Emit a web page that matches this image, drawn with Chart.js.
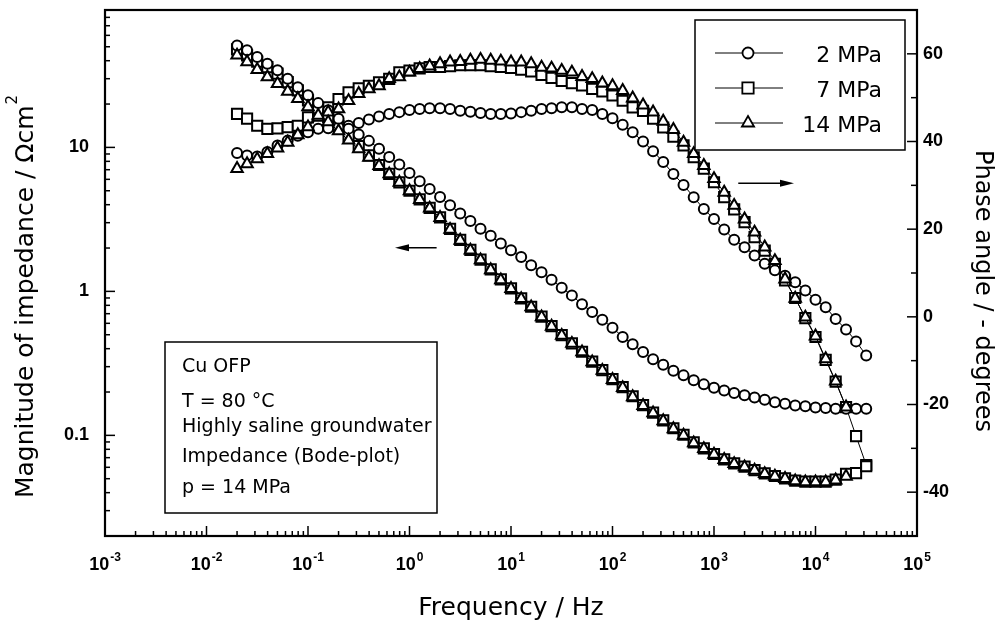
<!DOCTYPE html>
<html>
<head>
<meta charset="utf-8">
<script src="https://cdn.jsdelivr.net/npm/chart.js@4.4.1/dist/chart.umd.min.js"></script>
<style>
  html, body { margin: 0; padding: 0; background: #fff; }
  canvas { display: block; }
</style>
</head>
<body>
<canvas id="bode" width="999" height="625"></canvas>
<script>
// measuring frequencies, 10 per decade (Hz)
const freqHz = [
  0.02, 0.0251, 0.0316, 0.0398, 0.0501, 0.0631, 0.0794,
  0.1, 0.126, 0.158, 0.2, 0.251, 0.316, 0.398, 0.501, 0.631, 0.794,
  1, 1.26, 1.58, 2, 2.51, 3.16, 3.98, 5.01, 6.31, 7.94,
  10, 12.6, 15.8, 20, 25.1, 31.6, 39.8, 50.1, 63.1, 79.4,
  100, 126, 158, 200, 251, 316, 398, 501, 631, 794,
  1000, 1260, 1580, 2000, 2510, 3160, 3980, 5010, 6310, 7940,
  10000, 12600, 15800, 20000, 25100, 31600
];

const seriesLabels = ['2 MPa', '7 MPa', '14 MPa'];

// |Z| in Ohm cm2 (left axis)
const impedance2MPa = [
  51.1, 47.2, 42.4, 38.1, 34.3, 30.0, 26.2, 23.0, 20.3, 18.1,
  15.8, 13.5, 12.3, 11.1, 9.8, 8.57, 7.62, 6.64, 5.83, 5.14,
  4.52, 3.96, 3.48, 3.08, 2.72, 2.43, 2.15, 1.93, 1.73, 1.52,
  1.36, 1.205, 1.06, 0.938, 0.813, 0.718, 0.635, 0.560, 0.482, 0.429,
  0.379, 0.338, 0.309, 0.281, 0.261, 0.241, 0.226, 0.214, 0.205, 0.197,
  0.190, 0.183, 0.177, 0.170, 0.166, 0.161, 0.159, 0.156, 0.155, 0.153,
  0.153, 0.153, 0.153
];
const impedance7MPa = [
  47.9, 43.6, 39.4, 36.1, 32.5, 28.4, 24.9, 21.2, 18.6, 16.3,
  14.1, 12.0, 10.2, 8.81, 7.55, 6.55, 5.72, 5.0, 4.36, 3.80,
  3.27, 2.72, 2.28, 1.94, 1.66, 1.42, 1.21, 1.05, 0.893, 0.782,
  0.668, 0.574, 0.497, 0.436, 0.381, 0.325, 0.284, 0.246, 0.216, 0.187,
  0.162, 0.144, 0.127, 0.112, 0.101, 0.0893, 0.0812, 0.0742, 0.0682, 0.0638,
  0.0606, 0.0574, 0.0544, 0.0522, 0.0503, 0.0485, 0.0477, 0.0477, 0.0477, 0.0492,
  0.0541, 0.0547, 0.0610
];
const impedance14MPa = [
  43.6, 39.2, 34.7, 30.8, 27.7, 24.5, 21.8, 19.1, 16.7, 15.0,
  13.0, 11.2, 9.77, 8.51, 7.45, 6.53, 5.71, 4.99, 4.34, 3.78,
  3.25, 2.69, 2.26, 1.93, 1.65, 1.41, 1.20, 1.045, 0.889, 0.778,
  0.664, 0.571, 0.494, 0.434, 0.379, 0.323, 0.282, 0.244, 0.214, 0.185,
  0.161, 0.143, 0.126, 0.111, 0.100, 0.0885, 0.0807, 0.0738, 0.0678, 0.0635,
  0.0603, 0.0571, 0.0541, 0.0519, 0.0500, 0.0482, 0.0474, 0.0474, 0.0474, 0.0488,
  0.0519
];

// -phase in degrees (right axis)
const phase2MPa = [
  37.4, 36.8, 36.6, 37.6, 39.1, 40.2, 41.3, 42.1, 42.9, 43.0,
  43.2, 43.6, 44.2, 45.0, 45.7, 46.3, 46.7, 47.2, 47.4, 47.6,
  47.6, 47.4, 47.0, 46.8, 46.5, 46.3, 46.3, 46.4, 46.7, 47.0,
  47.4, 47.6, 47.8, 47.8, 47.4, 47.2, 46.3, 45.3, 43.8, 42.1,
  40.0, 37.8, 35.3, 32.6, 30.1, 27.3, 24.6, 22.3, 19.9, 17.6,
  15.9, 14.0, 12.1, 10.6, 9.4, 7.9, 6.0, 3.9, 2.2, -0.5,
  -2.9, -5.6, -8.8
];
const phase7MPa = [
  46.3, 45.2, 43.6, 42.9, 43.0, 43.3, 43.6, 45.5, 46.7, 47.8,
  49.7, 51.2, 52.1, 52.7, 53.5, 54.3, 55.8, 56.2, 56.7, 57.0,
  57.0, 57.2, 57.4, 57.4, 57.4, 57.2, 57.0, 56.8, 56.4, 56.0,
  55.2, 54.5, 53.8, 53.3, 52.8, 52.0, 51.4, 50.5, 49.3, 47.8,
  47.0, 45.2, 43.2, 41.1, 39.1, 36.4, 33.8, 30.7, 27.3, 24.5,
  21.6, 18.2, 15.1, 12.1, 8.3, 4.3, -0.3, -4.6, -9.8, -14.8,
  -20.6, -27.2, -33.8
];
const phase14MPa = [
  33.8, 34.9, 36.0, 37.2, 38.5, 39.8, 41.5, 43.3, 45.5, 46.7,
  47.4, 49.3, 50.9, 52.0, 52.7, 54.3, 54.7, 55.8, 56.6, 57.2,
  57.7, 58.1, 58.2, 58.5, 58.7, 58.5, 58.3, 58.1, 58.1, 57.7,
  56.9, 56.7, 56.2, 55.8, 54.8, 54.3, 53.3, 52.7, 51.6, 49.9,
  48.3, 46.7, 44.6, 42.7, 39.8, 37.2, 34.5, 31.5, 28.4, 25.4,
  22.3, 19.3, 15.9, 12.8, 8.6, 4.2, -0.1, -4.4, -9.6, -14.7,
  -20.6
];

const xTickExponents = [-3, -2, -1, 0, 1, 2, 3, 4, 5];
const leftTicks = [0.1, 1, 10];
const rightTicks = [-40, -20, 0, 20, 40, 60];

const noteLines = ['Cu OFP', 'T = 80 \u00B0C', 'Highly saline groundwater', 'Impedance (Bode-plot)', 'p = 14 MPa'];

// arrows pointing to the axis each curve family belongs to, in data units
const arrowMagnitude = { from: [1.85, 2.01], to: [0.72, 2.01] };
const arrowPhase = { from: [1734, 30.5], to: [6140, 30.5] };

const markerStyles = ['circle', 'rect', 'triangle'];
const markerRadius = [5, 7.2, 6.6];
const legendRadius = [5.5, 8, 7];
const drawOrder = [1, 2, 0];

const TICK_FONT = 'bold 18px "Liberation Sans", Arial, sans-serif';
const EXP_FONT = 'bold 12px "Liberation Sans", Arial, sans-serif';
const TITLE_FONT = '"DejaVu Sans", sans-serif';

function makeSeries(k, values, axis) {
    return {
        label: seriesLabels[k],
        yAxisID: axis,
        data: values.map((v, i) => ({ x: freqHz[i], y: v })),
        borderColor: '#000',
        borderWidth: 1,
        pointStyle: markerStyles[k],
        pointRadius: markerRadius[k],
        pointHoverRadius: markerRadius[k],
        pointBorderWidth: 2,
        pointBorderColor: '#000',
        pointBackgroundColor: '#fff',
        fill: false,
        tension: 0,
        order: drawOrder[k]
    };
}

function line(ctx, x1, y1, x2, y2) {
    ctx.beginPath();
    ctx.moveTo(x1, y1);
    ctx.lineTo(x2, y2);
    ctx.stroke();
}

function drawArrow(ctx, x0, y0, x1, y1) {
    const dir = Math.sign(x1 - x0);
    line(ctx, x0, y0, x1 - dir * 8, y1);
    ctx.beginPath();
    ctx.moveTo(x1, y1);
    ctx.lineTo(x1 - dir * 14, y1 - 3.5);
    ctx.lineTo(x1 - dir * 14, y1 + 3.5);
    ctx.closePath();
    ctx.fill();
}

function drawMarker(ctx, style, r, x, y) {
    if (Chart.helpers && Chart.helpers.drawPoint) {
        Chart.helpers.drawPoint(ctx, { pointStyle: style, radius: r, rotation: 0, borderWidth: 1.8 }, x, y);
        return;
    }
    ctx.beginPath();
    ctx.arc(x, y, r, 0, Math.PI * 2);
    ctx.fill();
    ctx.stroke();
}

const bodeDecor = {
    id: 'bodeDecor',
    beforeDatasetsDraw(chart) {
        const { ctx, chartArea: a, scales } = chart;
        const sx = scales.x, sl = scales.y, sr = scales.y2;
        ctx.save();
        ctx.strokeStyle = '#000';
        ctx.lineWidth = 1.5;

        // x ticks, pointing inwards
        xTickExponents.forEach(e => {
            const dec = Math.pow(10, e);
            const p = sx.getPixelForValue(dec);
            line(ctx, p, a.bottom, p, a.bottom - 10);
            if (e < 5) {
                for (let m = 2; m <= 9; m++) {
                    const q = sx.getPixelForValue(m * dec);
                    line(ctx, q, a.bottom, q, a.bottom - 5);
                }
            }
        });

        // left log axis
        for (let e = -2; e <= 1; e++) {
            const dec = Math.pow(10, e);
            if (dec >= sl.min && dec <= sl.max) {
                const p = sl.getPixelForValue(dec);
                line(ctx, a.left, p, a.left + 10, p);
            }
            for (let m = 2; m <= 9; m++) {
                const v = m * dec;
                if (v <= sl.min || v >= sl.max) continue;
                const q = sl.getPixelForValue(v);
                line(ctx, a.left, q, a.left + 5, q);
            }
        }

        // right linear axis
        for (let v = sr.min + 10; v < sr.max; v += 10) {
            const p = sr.getPixelForValue(v);
            const len = rightTicks.includes(v) ? 10 : 6;
            line(ctx, a.right, p, a.right - len, p);
        }

        ctx.lineWidth = 2.2;
        ctx.strokeRect(a.left, a.top, a.right - a.left, a.bottom - a.top);
        ctx.restore();
    },
    afterDatasetsDraw(chart) {
        const { ctx, chartArea: a, scales } = chart;
        const sx = scales.x, sl = scales.y, sr = scales.y2;
        ctx.save();
        ctx.fillStyle = '#000';
        ctx.strokeStyle = '#000';

        // x tick labels 10^n
        xTickExponents.forEach(e => {
            const p = sx.getPixelForValue(Math.pow(10, e));
            ctx.font = TICK_FONT;
            const wBase = ctx.measureText('10').width;
            ctx.font = EXP_FONT;
            const wExp = ctx.measureText(String(e)).width;
            const x0 = p - (wBase + wExp + 1) / 2;
            ctx.textAlign = 'left';
            ctx.textBaseline = 'alphabetic';
            ctx.font = TICK_FONT;
            ctx.fillText('10', x0, a.bottom + 34);
            ctx.font = EXP_FONT;
            ctx.fillText(String(e), x0 + wBase + 1, a.bottom + 25);
        });

        ctx.font = TICK_FONT;
        ctx.textBaseline = 'middle';
        ctx.textAlign = 'right';
        leftTicks.forEach(v => ctx.fillText(String(v), a.left - 16, sl.getPixelForValue(v)));
        ctx.textAlign = 'left';
        rightTicks.forEach(v => ctx.fillText(String(v), a.right + 6, sr.getPixelForValue(v)));

        // axis titles on both sides
        ctx.textBaseline = 'alphabetic';
        ctx.save();
        ctx.translate(33, (a.top + a.bottom) / 2 + 24);
        ctx.rotate(-Math.PI / 2);
        ctx.font = '25px ' + TITLE_FONT;
        const main = 'Magnitude of impedance / \u03A9cm';
        const wMain = ctx.measureText(main).width;
        ctx.font = '15px ' + TITLE_FONT;
        const wSup = ctx.measureText('2').width;
        ctx.textAlign = 'left';
        ctx.font = '25px ' + TITLE_FONT;
        ctx.fillText(main, -(wMain + wSup) / 2, 0);
        ctx.font = '15px ' + TITLE_FONT;
        ctx.fillText('2', -(wMain + wSup) / 2 + wMain + 1, -16);
        ctx.restore();

        ctx.save();
        ctx.translate(976, (a.top + a.bottom) / 2 + 18);
        ctx.rotate(Math.PI / 2);
        ctx.font = '24px ' + TITLE_FONT;
        ctx.textAlign = 'center';
        ctx.fillText('Phase angle / - degrees', 0, 0);
        ctx.restore();

        // arrows
        ctx.lineWidth = 1.5;
        drawArrow(ctx,
            sx.getPixelForValue(arrowMagnitude.from[0]), sl.getPixelForValue(arrowMagnitude.from[1]),
            sx.getPixelForValue(arrowMagnitude.to[0]), sl.getPixelForValue(arrowMagnitude.to[1]));
        drawArrow(ctx,
            sx.getPixelForValue(arrowPhase.from[0]), sr.getPixelForValue(arrowPhase.from[1]),
            sx.getPixelForValue(arrowPhase.to[0]), sr.getPixelForValue(arrowPhase.to[1]));

        // legend box
        const lg = { left: a.right - 222, top: a.top + 10, w: 210, h: 130 };
        ctx.fillStyle = '#fff';
        ctx.fillRect(lg.left, lg.top, lg.w, lg.h);
        ctx.lineWidth = 1.5;
        ctx.strokeRect(lg.left, lg.top, lg.w, lg.h);
        seriesLabels.forEach((label, k) => {
            const cy = lg.top + 33 + k * 35;
            ctx.lineWidth = 1;
            ctx.strokeStyle = '#000';
            line(ctx, lg.left + 20, cy, lg.left + 88, cy);
            ctx.fillStyle = '#fff';
            ctx.lineWidth = 1.8;
            drawMarker(ctx, markerStyles[k], legendRadius[k], lg.left + 53, cy);
            ctx.fillStyle = '#000';
            ctx.font = '22px ' + TITLE_FONT;
            ctx.textAlign = 'right';
            ctx.textBaseline = 'alphabetic';
            ctx.fillText(label, lg.left + 187, cy + 8.5);
        });

        // note box with test conditions
        const nb = { left: a.left + 60, top: a.bottom - 194, w: 272, h: 171 };
        ctx.fillStyle = '#fff';
        ctx.fillRect(nb.left, nb.top, nb.w, nb.h);
        ctx.lineWidth = 1.5;
        ctx.strokeRect(nb.left, nb.top, nb.w, nb.h);
        ctx.fillStyle = '#000';
        ctx.font = '19px ' + TITLE_FONT;
        ctx.textAlign = 'left';
        const baselines = [30, 65, 90, 120, 151];
        noteLines.forEach((t, i) => ctx.fillText(t, nb.left + 17, nb.top + baselines[i]));

        ctx.restore();
    }
};

const ctx = document.getElementById('bode').getContext('2d');
const chart = new Chart(ctx, {
    type: 'line',
    data: {
        datasets: [
            makeSeries(0, impedance2MPa, 'y'),
            makeSeries(1, impedance7MPa, 'y'),
            makeSeries(2, impedance14MPa, 'y'),
            makeSeries(0, phase2MPa, 'y2'),
            makeSeries(1, phase7MPa, 'y2'),
            makeSeries(2, phase14MPa, 'y2')
        ]
    },
    options: {
        responsive: false,
        animation: false,
        events: [],
        devicePixelRatio: 1,
        layout: { padding: { top: 10, left: 0, right: 0, bottom: 0 } },
        scales: {
            x: {
                type: 'logarithmic',
                position: 'bottom',
                min: 1e-3,
                max: 1e5,
                grid: { display: false },
                border: { display: false },
                ticks: { display: false },
                title: {
                    display: true,
                    text: 'Frequency / Hz',
                    color: '#000',
                    font: { family: 'DejaVu Sans', size: 25 },
                    padding: { top: 0, bottom: 2 }
                },
                afterFit: s => { s.height = 89; }
            },
            y: {
                type: 'logarithmic',
                position: 'left',
                min: 0.02,
                max: 90,
                grid: { display: false },
                border: { display: false },
                ticks: { display: false },
                afterFit: s => { s.width = 105; }
            },
            y2: {
                type: 'linear',
                position: 'right',
                min: -50,
                max: 70,
                grid: { display: false },
                border: { display: false },
                ticks: { display: false },
                afterFit: s => { s.width = 82; }
            }
        },
        plugins: {
            legend: { display: false },
            tooltip: { enabled: false }
        }
    },
    plugins: [bodeDecor]
});
</script>
</body>
</html>
